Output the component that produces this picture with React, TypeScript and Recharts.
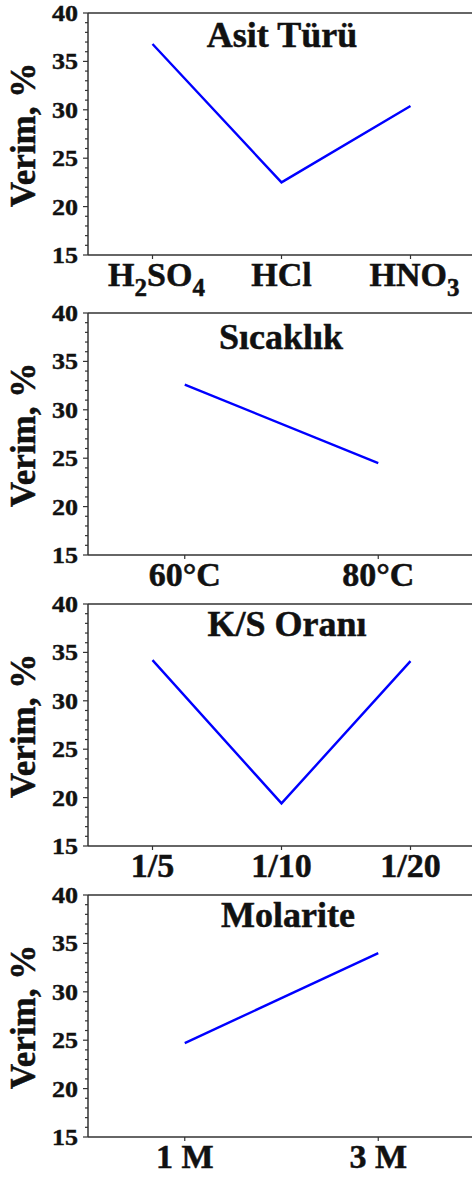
import React from 'react'
import { LineChart, Line, XAxis, YAxis, ReferenceLine } from 'recharts'

const ACID_CATS = ['H2SO4', 'HCl', 'HNO3']
const ACID_VALUES = [36.8, 22.5, 30.4]
const TEMP_CATS = ['60°C', '80°C']
const TEMP_VALUES = [32.6, 24.5]
const RATIO_CATS = ['1/5', '1/10', '1/20']
const RATIO_VALUES = [34.2, 19.4, 34.1]
const MOLAR_CATS = ['1 M', '3 M']
const MOLAR_VALUES = [24.7, 34.0]

const Y_TICKS = [15, 16, 17, 18, 19, 20, 21, 22, 23, 24, 25, 26, 27, 28, 29, 30, 31, 32, 33, 34, 35, 36, 37, 38, 39, 40]
const Y_LABELED = [15, 20, 25, 30, 35, 40]
const Y_TITLE = 'Verim, %'

const FONT = "'Liberation Serif', Tinos, 'Times New Roman', Times, serif"
const TXT: React.CSSProperties = { fontFamily: FONT, fontWeight: 700 }
const AXIS_COLOR = '#333'
const LINE_COLOR = '#0000FF'
const INK = '#111'
const PLOT_H = 242
const MT = 14

const YTick = (props: any) => {
  const { x, y, payload } = props
  const major = Y_LABELED.includes(payload.value)
  return (
    <g>
      <line x1={x - (major ? 5 : 3)} x2={x} y1={y} y2={y} stroke={AXIS_COLOR} strokeWidth={1.2} />
      {major && (
        <text
          x={x - 10}
          y={y + 8}
          textAnchor="end"
          style={{ ...TXT, fontSize: 23 }}
          textLength={26}
          lengthAdjust="spacingAndGlyphs"
          fill={INK}
          stroke={INK}
          strokeWidth={0.4}
        >
          {payload.value}
        </text>
      )}
    </g>
  )
}

// splits chemical formulas so the digits go into subscripts
function renderLabel(label: string) {
  if (!/^[A-Z]/.test(label) || !/\d/.test(label) || label.includes(' ')) return label
  const parts = label.match(/[A-Za-z]+|\d+/g) || []
  let sub = false
  return parts.map((p, i) => {
    const isNum = /\d/.test(p)
    const dy = isNum && !sub ? 10 : !isNum && sub ? -10 : 0
    sub = isNum
    return (
      <tspan key={i} dy={dy} style={{ fontSize: isNum ? 25 : 34 }}>
        {p}
      </tspan>
    )
  })
}

const XTick = (props: any) => {
  const { x, y, payload } = props
  const shift = /\d/.test(payload.value) && /^[A-Z]/.test(payload.value) ? 4 : 0
  return (
    <g>
      <line x1={x} x2={x} y1={y} y2={y + 4} stroke={AXIS_COLOR} strokeWidth={1.2} />
      <text
        x={x + shift}
        y={y + 31}
        textAnchor="middle"
        style={{ ...TXT, fontSize: 34 }}
        fill={INK}
        stroke={INK}
        strokeWidth={0.5}
      >
        {renderLabel(payload.value)}
      </text>
    </g>
  )
}

type PanelProps = {
  top: number
  title: string
  titleX: number
  titleDy: number
  cats: string[]
  values: number[]
}

function Panel({ top, title, titleX, titleDy, cats, values }: PanelProps) {
  const data = cats.map((c, i) => ({ cat: c, v: values[i] }))
  const cy = MT + PLOT_H / 2 + 1
  return (
    <div style={{ position: 'absolute', left: 0, top: top - MT }}>
      <LineChart width={475} height={MT + PLOT_H + 48} data={data} margin={{ top: MT, right: 0, left: 0, bottom: 3 }}>
        <XAxis
          dataKey="cat"
          scale="band"
          height={45}
          tickSize={0}
          tickMargin={0}
          tickLine={false}
          interval={0}
          stroke={AXIS_COLOR}
          strokeWidth={1.5}
          tick={<XTick />}
        />
        <YAxis
          domain={[15, 40]}
          ticks={Y_TICKS}
          interval={0}
          width={88}
          tickSize={0}
          tickMargin={0}
          tickLine={false}
          stroke={AXIS_COLOR}
          strokeWidth={1.5}
          tick={<YTick />}
        />
        <ReferenceLine y={40} stroke={AXIS_COLOR} strokeWidth={1.5} />
        <Line
          type="linear"
          dataKey="v"
          stroke={LINE_COLOR}
          strokeWidth={2.4}
          dot={false}
          isAnimationActive={false}
        />
        <text
          x={titleX}
          y={MT + titleDy}
          textAnchor="middle"
          style={{ ...TXT, fontSize: 36 }}
          fill={INK}
          stroke={INK}
          strokeWidth={0.5}
        >
          {title}
        </text>
        <text
          x={35}
          y={cy}
          transform={`rotate(-90, 35, ${cy})`}
          textAnchor="middle"
          style={{ ...TXT, fontSize: 35 }}
          fill={INK}
          stroke={INK}
          strokeWidth={0.5}
        >
          {Y_TITLE}
        </text>
      </LineChart>
    </div>
  )
}

export default function App() {
  return (
    <div style={{ position: 'absolute', left: 0, top: 0, width: 472, height: 1178, overflow: 'hidden', background: '#fff' }}>
      <Panel top={13} title="Asit Türü" titleX={282} titleDy={34} cats={ACID_CATS} values={ACID_VALUES} />
      <Panel top={313} title="Sıcaklık" titleX={281} titleDy={36} cats={TEMP_CATS} values={TEMP_VALUES} />
      <Panel top={604} title="K/S Oranı" titleX={287} titleDy={32} cats={RATIO_CATS} values={RATIO_VALUES} />
      <Panel top={895} title="Molarite" titleX={288} titleDy={32} cats={MOLAR_CATS} values={MOLAR_VALUES} />
    </div>
  )
}
